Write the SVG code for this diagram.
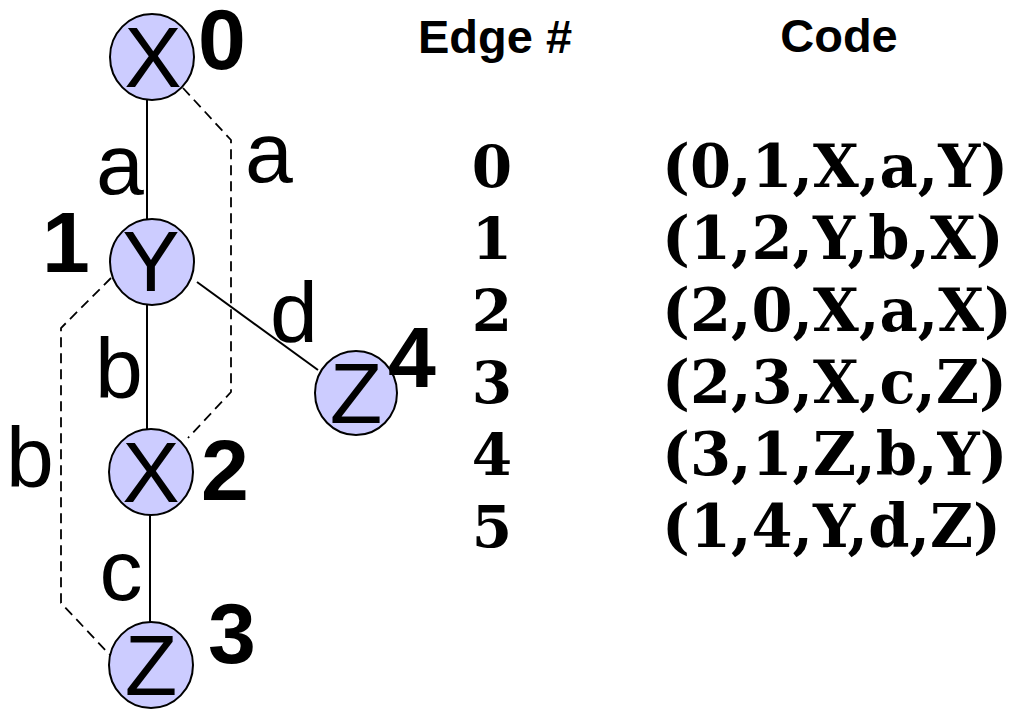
<svg xmlns="http://www.w3.org/2000/svg" width="1030" height="709" viewBox="0 0 1030 709">
<style>
.node{fill:#ccccff;stroke:#000;stroke-width:2}
.lbl{font-family:"Liberation Sans",Arial,sans-serif;font-size:86px;fill:#000;text-anchor:middle}
.num{font-family:"Liberation Sans",Arial,sans-serif;font-size:86px;font-weight:bold;fill:#000;text-anchor:middle}
.solid{stroke:#000;stroke-width:2;fill:none}
.dash{stroke:#000;stroke-width:1.8;fill:none;stroke-dasharray:10 6}
.hdr{font-family:"Liberation Sans",Arial,sans-serif;font-size:47px;font-weight:bold;fill:#000}
.code{font-family:"DejaVu Serif",serif;font-size:59px;font-weight:bold;fill:#000}
.idx{font-family:"DejaVu Serif",serif;font-size:58px;font-weight:bold;fill:#000;text-anchor:middle}
</style>
<rect width="1030" height="709" fill="#fff"/>
<g id="connectors">
<line class="solid" x1="147" y1="99" x2="147" y2="220"/>
<line class="solid" x1="147" y1="304" x2="147" y2="431"/>
<line class="solid" x1="150" y1="514" x2="150" y2="624"/>
<line class="solid" x1="197" y1="282" x2="318" y2="370"/>
<path class="dash" d="M183,88 L231,140 L231,392 L188,438"/>
<path class="dash" d="M111,278 L61,328 L61,603 L110,655"/>
<text class="lbl" x="120" y="194">a</text>
<text class="lbl" x="269" y="182">a</text>
<text class="lbl" x="119" y="398">b</text>
<text class="lbl" x="294" y="342">d</text>
<text class="lbl" x="30" y="487">b</text>
<text class="lbl" x="121" y="600">c</text>
</g>
<g id="node0">
<ellipse class="node" cx="152" cy="57" rx="42" ry="43"/>
<text class="lbl" x="153" y="87">X</text>
<text class="num" x="222" y="69">0</text>
</g>
<g id="node1">
<ellipse class="node" cx="152" cy="262" rx="42" ry="43"/>
<text class="lbl" x="151" y="291">Y</text>
<text class="num" x="66" y="272">1</text>
</g>
<g id="node2">
<ellipse class="node" cx="151" cy="472" rx="42" ry="43"/>
<text class="lbl" x="151" y="502">X</text>
<text class="num" x="225" y="500">2</text>
</g>
<g id="node3">
<ellipse class="node" cx="151" cy="665" rx="42" ry="43"/>
<text class="lbl" x="151" y="695">Z</text>
<text class="num" x="232" y="663">3</text>
</g>
<g id="node4">
<ellipse class="node" cx="356" cy="393" rx="41" ry="42"/>
<text class="lbl" x="356" y="423">Z</text>
<text class="num" x="412" y="387">4</text>
</g>
<g id="table">
<text class="hdr" x="418" y="53">Edge #</text>
<text class="hdr" x="839" y="52" text-anchor="middle">Code</text>
<text class="idx" x="492" y="187">0</text>
<text class="idx" x="492" y="259">1</text>
<text class="idx" x="492" y="331">2</text>
<text class="idx" x="492" y="403">3</text>
<text class="idx" x="492" y="475">4</text>
<text class="idx" x="492" y="547">5</text>
<text class="code" x="662" y="187">(0,1,X,a,Y)</text>
<text class="code" x="662" y="259">(1,2,Y,b,X)</text>
<text class="code" x="662" y="331">(2,0,X,a,X)</text>
<text class="code" x="662" y="403">(2,3,X,c,Z)</text>
<text class="code" x="662" y="475">(3,1,Z,b,Y)</text>
<text class="code" x="662" y="547">(1,4,Y,d,Z)</text>
</g>
</svg>
